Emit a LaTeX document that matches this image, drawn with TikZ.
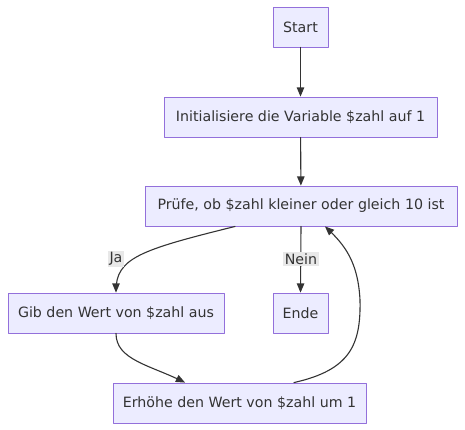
\documentclass[tikz,border=0pt]{standalone}
\usepackage{fontspec}
\setmainfont{DejaVu Sans}
\usetikzlibrary{arrows}
\definecolor{boxfill}{HTML}{ECECFF}
\definecolor{boxline}{HTML}{9370DB}
\definecolor{txt}{HTML}{333333}
\definecolor{lblbg}{HTML}{E8E8E8}
\tikzset{
	box/.style={draw=boxline,fill=boxfill,text=txt,line width=0.9pt,minimum height=40pt,inner xsep=4pt,font=\fontsize{14.2}{17}\selectfont},
	lbl/.style={fill=lblbg,text=txt,inner sep=1.5pt,font=\fontsize{14.2}{17}\selectfont},
	conn/.style={->,draw=txt,line width=1.1pt}
}

\begin{document}
\begin{tikzpicture}[line cap=round,line join=round,>=triangle 45,x=1pt,y=-1pt]
		\useasboundingbox (0,0) rectangle (465,430);
		\node[box,minimum width=55pt] (start) at (300.5,27) {Start};
		\node[box,minimum width=273pt] (init) at (300.5,117) {Initialisiere die Variable \$zahl auf 1};
		\node[box,minimum width=312pt] (check) at (301,206) {Prüfe, ob \$zahl kleiner oder gleich 10 ist};
		\node[box,minimum width=216pt] (out) at (116,313) {Gib den Wert von \$zahl aus};
		\node[box,minimum width=55pt] (stop) at (300.5,313) {Ende};
		\node[box,minimum width=253pt] (inc) at (239.5,403) {Erhöhe den Wert von \$zahl um 1};
		\draw[conn] (start) -- (init);
		\draw[conn] (init) -- (check);
		\draw[conn] ([xshift=-66pt]check.south) .. controls (140,250) and (116,258) .. (out.north);
		\draw[conn] (check.south) -- (stop.north);
		\draw[conn] (out.south) .. controls (116,360) and (150,365) .. ([xshift=-54.5pt]inc.north);
		\draw[conn] ([xshift=54.5pt]inc.north) .. controls (350,370) and (361,345) .. (360,300)
			.. controls (358,262) and (345,245) .. ([xshift=24pt]check.south);
		\node[lbl] (ja) at (116,259) {Ja};
		\node[lbl] (nein) at (301,259) {Nein};
		\end{tikzpicture}
\end{document}
